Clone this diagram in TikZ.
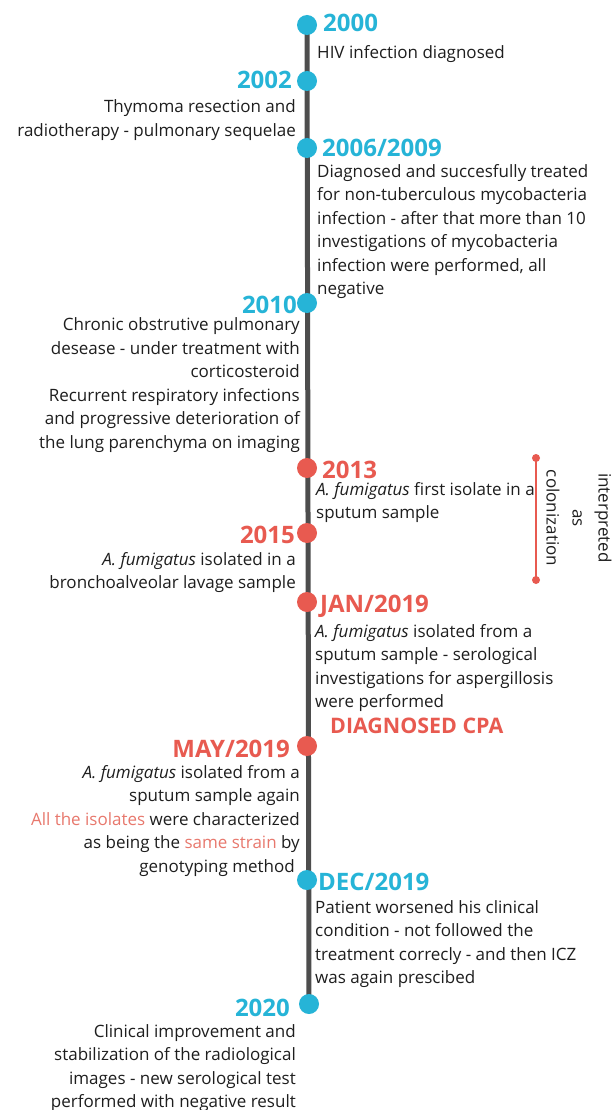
\documentclass[tikz,border=0pt]{standalone}
\usepackage{fontspec}
\setmainfont{Open Sans}
\definecolor{tlcyan}{HTML}{26B4D7}
\definecolor{tlred}{HTML}{E85A50}
\definecolor{tlsalmon}{HTML}{E8786D}
\definecolor{tlgray}{HTML}{4D4D4D}
\definecolor{tltext}{HTML}{1E1E1E}
\pgfdeclarelayer{background}
\pgfsetlayers{background,main}
\begin{document}
\begin{tikzpicture}[x=1pt,y=-1pt,
  dot/.style={circle,fill=#1,minimum size=20pt,inner sep=0pt},
  smalldot/.style={circle,fill=tlred,minimum size=8pt,inner sep=0pt},
  year/.style={font=\fontsize{24}{28}\selectfont\bfseries,text=#1,inner sep=0pt},
  bodyl/.style={font=\fontsize{17}{23.5}\selectfont,text=tltext,inner sep=0pt,align=left,anchor=base west},
  bodyr/.style={font=\fontsize{17}{23.5}\selectfont,text=tltext,inner sep=0pt,align=right,anchor=base east},
  timeline/.style={draw=tlgray,line width=5pt},
  bracket/.style={draw=tlred,line width=2pt}]
\useasboundingbox (0,0) rectangle (612,1110);

% dots
\node[dot=tlcyan] (d2000) at (307,25) {};
\node[dot=tlcyan] (d2002) at (307,81) {};
\node[dot=tlcyan] (d2006) at (307,148) {};
\node[dot=tlcyan] (d2010) at (307,303) {};
\node[dot=tlred] (d2013) at (307,468) {};
\node[dot=tlred] (d2015) at (307,533) {};
\node[dot=tlred] (djan) at (307,602) {};
\node[dot=tlred] (dmay) at (307,746) {};
\node[dot=tlcyan] (ddec) at (307,880) {};
\node[dot=tlcyan] (d2020) at (309,1004) {};

\begin{pgfonlayer}{background}
\fill[white] (0,0) rectangle (612,1110);
\draw[timeline] (d2000.center) -- (d2020.center);
\end{pgfonlayer}

% years
\node[year=tlcyan,anchor=base west] (y2000) at (323,32) {2000};
\node[year=tlcyan,anchor=base east] (y2002) at (292,89) {2002};
\node[year=tlcyan,anchor=base west] (y2006) at (322,157) {2006/2009};
\node[year=tlcyan,anchor=base east] (y2010) at (297,313) {2010};
\node[year=tlred,anchor=base west] (y2013) at (322,478) {2013};
\node[year=tlred,anchor=base east] (y2015) at (295,543) {2015};
\node[year=tlred,anchor=base west] (yjan) at (320,612) {JAN/2019};
\node[year=tlred,anchor=base east] (ymay) at (290,757) {MAY/2019};
\node[year=tlcyan,anchor=base west] (ydec) at (318,890) {DEC/2019};
\node[year=tlcyan,anchor=base east] (y2020) at (290,1016) {2020};

% bodies (anchored at the baseline of their last line)
\node[bodyl] (t2000) at (317,59) {HIV infection diagnosed};
\node[bodyr] (t2002) at (296,136.5) {Thymoma resection and\\radiotherapy - pulmonary sequelae};
\node[bodyl] (t2006) at (317,294.5) {Diagnosed and succesfully treated\\for non-tuberculous mycobacteria\\infection - after that more than 10\\investigations of mycobacteria\\infection were performed, all\\negative};
\node[bodyr] (t2010) at (300,448) {Chronic obstrutive pulmonary\\desease - under treatment with\\corticosteroid\\Recurrent respiratory infections\\and progressive deterioration of\\the lung parenchyma on imaging};
\node[bodyl] (t2013) at (316,518.5) {\textit{A. fumigatus} first isolate in a\\sputum sample};
\node[bodyr] (t2015) at (296,588.5) {\textit{A. fumigatus} isolated in a\\bronchoalveolar lavage sample};
\node[bodyl] (tjan) at (315,707.5) {\textit{A. fumigatus} isolated from a\\sputum sample - serological\\investigations for aspergillosis\\were performed};
\node[font=\fontsize{21.4}{26}\selectfont\bfseries,text=tlred,inner sep=0pt,anchor=base west] (cpa) at (330,733) {DIAGNOSED CPA};
\node[bodyr] (tmay) at (300,872) {\textit{A. fumigatus} isolated from a\\sputum sample again\\\textcolor{tlsalmon}{All the isolates} were characterized\\as being the \textcolor{tlsalmon}{same strain} by\hspace*{8pt}\\genotyping method\hspace*{5pt}};
\node[bodyl] (tdec) at (315,983.5) {Patient worsened his clinical\\condition - not followed the\\treatment correcly - and then ICZ\\was again prescibed};
\node[bodyr] (t2020) at (296,1107.5) {Clinical improvement and\\stabilization of the radiological\\images - new serological test\\performed with negative result};

% colonization bracket
\node[smalldot] (bt) at (536,458) {};
\node[smalldot] (bb) at (536,580) {};
\draw[bracket] (bt.center) -- (bb.center);
\node[font=\fontsize{17}{26}\selectfont,text=tltext,rotate=-90,align=center,inner sep=0pt] (interp) at (579,518) {interpreted\\as\\colonization};
\end{tikzpicture}
\end{document}
